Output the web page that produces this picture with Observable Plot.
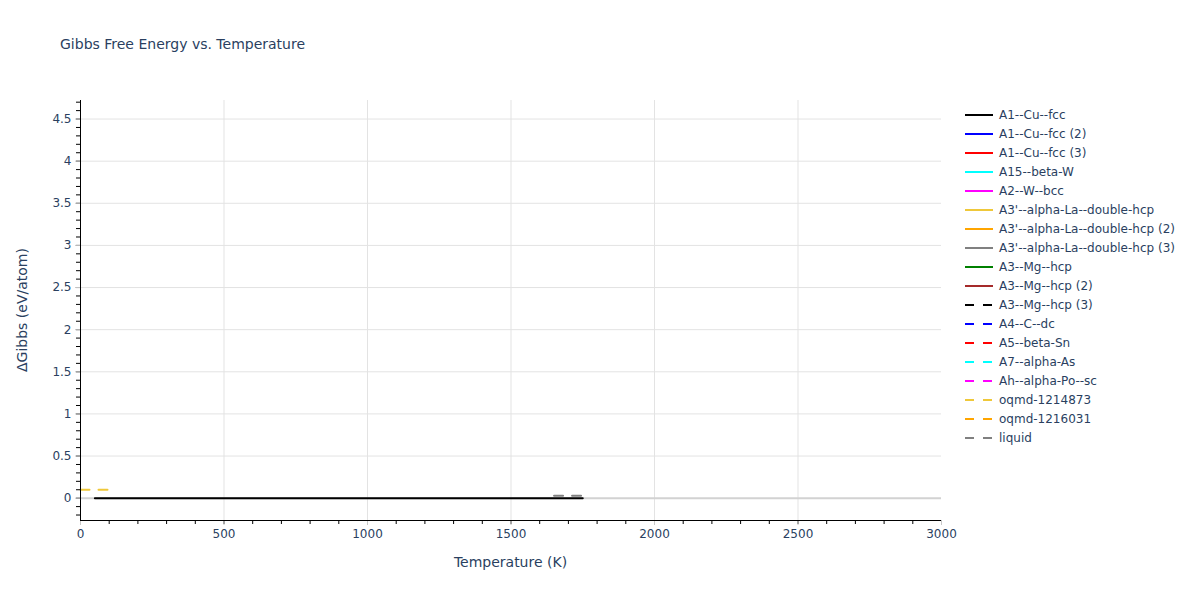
<!DOCTYPE html>
<html><head><meta charset="utf-8">
<script src="https://cdn.jsdelivr.net/npm/d3@7"></script>
<script src="https://cdn.jsdelivr.net/npm/@observablehq/plot@0.6"></script>
<style>
body{margin:0;background:#fff;font-family:"DejaVu Sans",sans-serif;}
#wrap{position:relative;width:1200px;height:600px;overflow:hidden;}
#chart{position:absolute;left:0;top:0;}
#title{position:absolute;left:60px;top:36px;font-size:14px;color:#2a3f5f;white-space:nowrap;}
#xlabel{position:absolute;left:80px;width:861px;top:554px;text-align:center;font-size:14px;color:#2a3f5f;}
#ylabel{position:absolute;left:22px;top:310px;font-size:14px;color:#2a3f5f;white-space:nowrap;transform:translate(-50%,-50%) rotate(-90deg);}
#legend{position:absolute;left:955px;top:100px;}
</style></head>
<body><div id="wrap">
<div id="chart"></div>
<div id="title">Gibbs Free Energy vs. Temperature</div>
<div id="xlabel">Temperature (K)</div>
<div id="ylabel">ΔGibbs (eV/atom)</div>
<svg id="legend" width="245" height="360"></svg>
</div>
<script>
// ---- data ----
const seriesNames = ["A1--Cu--fcc","A1--Cu--fcc (2)","A1--Cu--fcc (3)","A15--beta-W","A2--W--bcc",
  "A3'--alpha-La--double-hcp","A3'--alpha-La--double-hcp (2)","A3'--alpha-La--double-hcp (3)",
  "A3--Mg--hcp","A3--Mg--hcp (2)","A3--Mg--hcp (3)","A4--C--dc","A5--beta-Sn","A7--alpha-As",
  "Ah--alpha-Po--sc","oqmd-1214873","oqmd-1216031","liquid"];
const seriesColors = ["black","blue","red","cyan","magenta","#efc83a","orange","gray","green","brown",
  "black","blue","red","cyan","magenta","#efc83a","orange","gray"];
const seriesDashed = [false,false,false,false,false,false,false,false,false,false,
  true,true,true,true,true,true,true,true];

const cuFccT = [50, 1750];
const cuFccG = [0, 0];
const oqmd1214873T = [0, 100];
const oqmd1214873G = [0.1, 0.1];
const liquidT = [1650, 1750];
const liquidG = [0.03, 0.03];

const xTicks = [0, 500, 1000, 1500, 2000, 2500, 3000];
const yTicks = [0, 0.5, 1, 1.5, 2, 2.5, 3, 3.5, 4, 4.5];
const xDomain = [0, 3000];
const yDomain = [-0.265, 4.72];

// ---- build ----
const toRows = (T, G) => T.map((t, i) => ({T: t, G: G[i]}));
const xMinor = d3.range(0, 3001, 100);
const yMinor = d3.range(-2, 48).map(d => d / 10);
const dash = "9,9";
const blank = () => "";

const chart = Plot.plot({
  width: 1200, height: 600,
  marginLeft: 80, marginRight: 259, marginTop: 100, marginBottom: 80,
  style: {fontFamily: "'DejaVu Sans', sans-serif", fontSize: "12px", color: "#2a3f5f", background: "white"},
  x: {domain: xDomain, label: null},
  y: {domain: yDomain, label: null},
  marks: [
    Plot.gridX(xTicks.filter(d => d > 0 && d < 3000), {stroke: "#e3e3e3", strokeOpacity: 1}),
    Plot.gridY(yTicks.filter(d => d !== 0), {stroke: "#e3e3e3", strokeOpacity: 1}),
    Plot.ruleY([0], {stroke: "#d2d2d2", strokeWidth: 2}),
    Plot.line(toRows(cuFccT, cuFccG), {x: "T", y: "G", stroke: seriesColors[0], strokeWidth: 2}),
    Plot.line(toRows(oqmd1214873T, oqmd1214873G), {x: "T", y: "G", stroke: seriesColors[15], strokeWidth: 2, strokeDasharray: dash}),
    Plot.line(toRows(liquidT, liquidG), {x: "T", y: "G", stroke: seriesColors[17], strokeWidth: 2, strokeDasharray: dash}),
    // minor ticks
    Plot.axisX(xMinor, {tickSize: 4, tickFormat: blank, stroke: "black", label: null}),
    Plot.axisY(yMinor, {tickSize: 4, tickFormat: blank, stroke: "black", label: null}),
    // major ticks
    Plot.axisX(xTicks, {tickSize: 5, tickFormat: blank, stroke: "#c8c8c8", label: null}),
    Plot.axisY(yTicks, {tickSize: 5, tickFormat: blank, stroke: "#c8c8c8", label: null}),
    // labels
    Plot.axisX(xTicks, {tickSize: 0, tickPadding: 9, tickFormat: d => String(d), fill: "#2a3f5f", label: null}),
    Plot.axisY(yTicks, {tickSize: 0, tickPadding: 9, tickFormat: d => String(d), fill: "#2a3f5f", label: null}),
    // axis lines
    Plot.ruleX([0], {stroke: "black", strokeWidth: 1}),
    Plot.ruleY([yDomain[0]], {stroke: "black", strokeWidth: 1})
  ]
});
document.getElementById("chart").appendChild(chart);

// ---- legend ----
const lg = d3.select("#legend");
seriesNames.forEach((name, i) => {
  const y = 15 + i * 19;
  lg.append("line").attr("x1", 10).attr("x2", 38).attr("y1", y).attr("y2", y)
    .attr("stroke", seriesColors[i]).attr("stroke-width", 2)
    .attr("stroke-dasharray", seriesDashed[i] ? dash : null);
  lg.append("text").attr("x", 44).attr("y", y).attr("dy", "0.35em")
    .attr("fill", "#2a3f5f").attr("font-size", 12).attr("font-family", "'DejaVu Sans', sans-serif")
    .text(name);
});
</script>
</body></html>
